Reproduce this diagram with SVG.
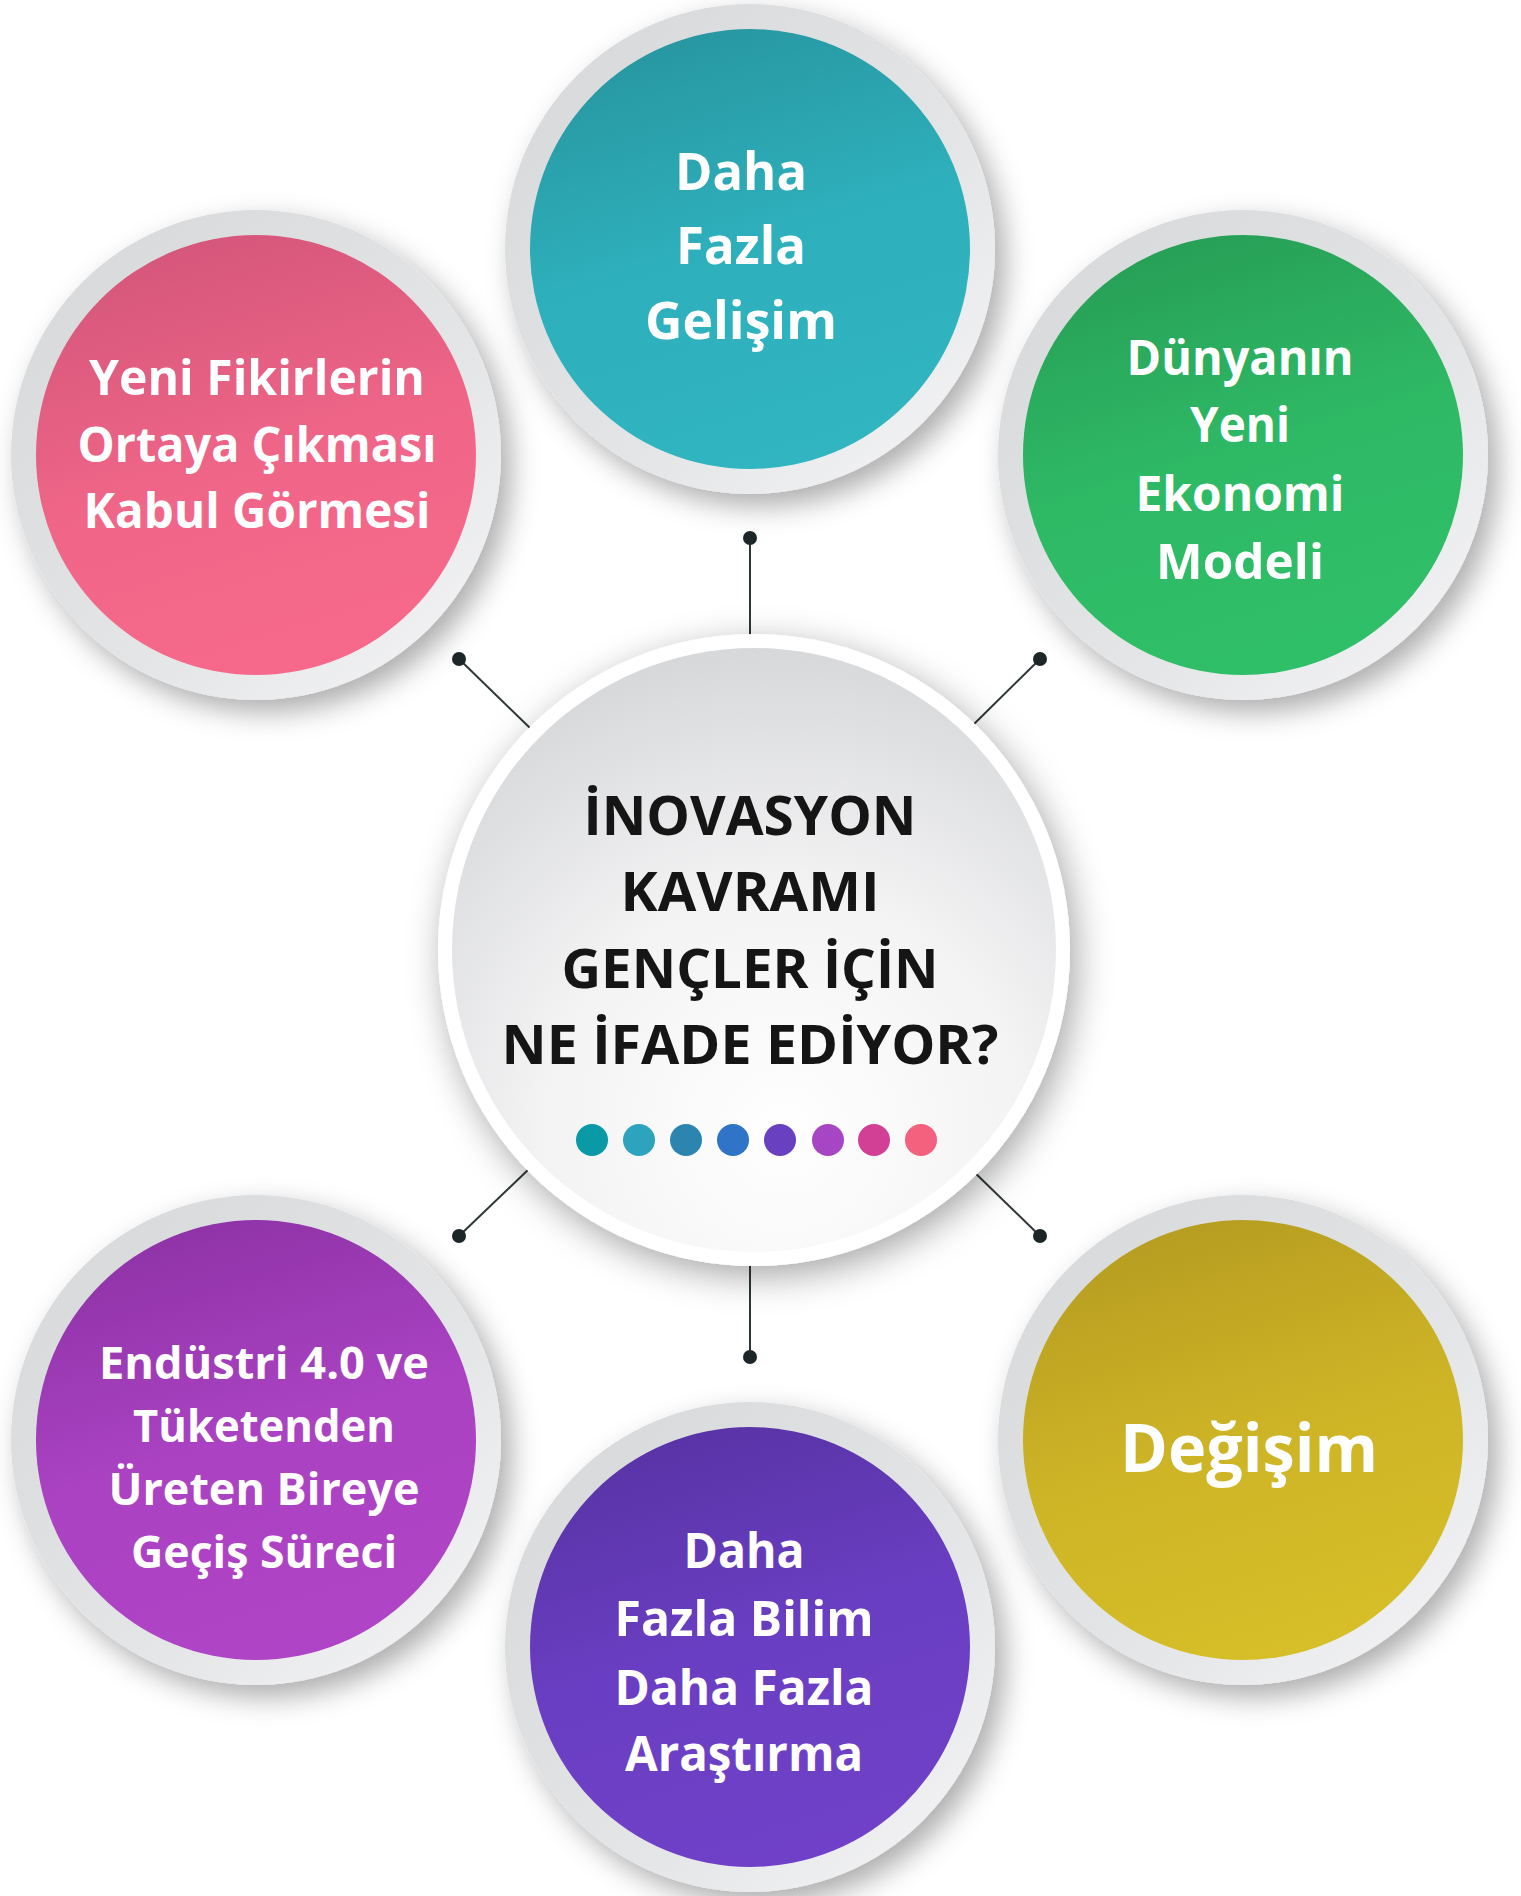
<svg xmlns="http://www.w3.org/2000/svg" width="1521" height="1896" viewBox="0 0 1521 1896">
<defs>
<style>
.t{font-family:"Open Sans","Noto Sans","DejaVu Sans",sans-serif;font-weight:700;fill:#ffffff;text-anchor:middle}
.c{font-family:"Open Sans","Noto Sans","DejaVu Sans",sans-serif;font-weight:700;fill:#151515;text-anchor:middle;font-size:54px}
.ring{fill:url(#ringG)}
.conn{stroke:#2f3638;stroke-width:2;fill:none}
.dot{fill:#1c2628}
</style>
<filter id="sh" x="-30%" y="-30%" width="170%" height="170%">
<feDropShadow dx="10" dy="12" stdDeviation="14" flood-color="#000" flood-opacity="0.32"/>
</filter>
<filter id="shc" x="-30%" y="-30%" width="170%" height="170%">
<feDropShadow dx="6" dy="10" stdDeviation="18" flood-color="#000" flood-opacity="0.35"/>
</filter>
<linearGradient id="ringG" x1="0" y1="0" x2="1" y2="1">
<stop offset="0" stop-color="#d6d7d9"/>
<stop offset="0.6" stop-color="#e4e5e7"/>
<stop offset="1" stop-color="#f6f6f7"/>
</linearGradient>
<linearGradient id="gTeal" x1="0.3" y1="0" x2="0.6" y2="1">
<stop offset="0" stop-color="#2796a0"/>
<stop offset="0.5" stop-color="#2eb0bc"/>
<stop offset="1" stop-color="#30b5c1"/>
</linearGradient>
<linearGradient id="gPink" x1="0.3" y1="0" x2="0.6" y2="1">
<stop offset="0" stop-color="#d4567a"/>
<stop offset="0.55" stop-color="#f06688"/>
<stop offset="1" stop-color="#f7698b"/>
</linearGradient>
<linearGradient id="gGreen" x1="0.3" y1="0" x2="0.6" y2="1">
<stop offset="0" stop-color="#279e56"/>
<stop offset="0.5" stop-color="#2eb965"/>
<stop offset="1" stop-color="#30bf69"/>
</linearGradient>
<linearGradient id="gPurple" x1="0.3" y1="0" x2="0.6" y2="1">
<stop offset="0" stop-color="#8e32a6"/>
<stop offset="0.5" stop-color="#aa42c2"/>
<stop offset="1" stop-color="#b044c6"/>
</linearGradient>
<linearGradient id="gViolet" x1="0.3" y1="0" x2="0.6" y2="1">
<stop offset="0" stop-color="#5833a5"/>
<stop offset="0.5" stop-color="#6a3ec2"/>
<stop offset="1" stop-color="#7041c8"/>
</linearGradient>
<linearGradient id="gYellow" x1="0.3" y1="0" x2="0.6" y2="1">
<stop offset="0" stop-color="#b69c20"/>
<stop offset="0.5" stop-color="#cdb426"/>
<stop offset="1" stop-color="#d6bf28"/>
</linearGradient>
<radialGradient id="gCenter" cx="0.55" cy="0.8" r="0.8">
<stop offset="0" stop-color="#ffffff"/>
<stop offset="0.5" stop-color="#f3f3f4"/>
<stop offset="1" stop-color="#d7d8da"/>
</radialGradient>
</defs>
<rect width="1521" height="1896" fill="#ffffff"/>

<g id="connectors">
<line class="conn" x1="750" y1="538" x2="750" y2="640"/>
<circle class="dot" cx="750" cy="538" r="7"/>
<line class="conn" x1="459" y1="659" x2="530" y2="728"/>
<circle class="dot" cx="459" cy="659" r="7"/>
<line class="conn" x1="1040" y1="659" x2="970" y2="728"/>
<circle class="dot" cx="1040" cy="659" r="7"/>
<line class="conn" x1="459" y1="1236" x2="530" y2="1168"/>
<circle class="dot" cx="459" cy="1236" r="7"/>
<line class="conn" x1="1040" y1="1236" x2="970" y2="1168"/>
<circle class="dot" cx="1040" cy="1236" r="7"/>
<line class="conn" x1="750" y1="1262" x2="750" y2="1357"/>
<circle class="dot" cx="750" cy="1357" r="7"/>
</g>

<g id="center">
<circle cx="754" cy="950" r="316" fill="#ffffff" filter="url(#shc)"/>
<circle cx="754" cy="950" r="302" fill="url(#gCenter)"/>
<text class="c" x="750" y="835" textLength="333" lengthAdjust="spacingAndGlyphs">İNOVASYON</text>
<text class="c" x="750" y="911" textLength="259" lengthAdjust="spacingAndGlyphs">KAVRAMI</text>
<text class="c" x="750" y="988" textLength="377" lengthAdjust="spacingAndGlyphs">GENÇLER İÇİN</text>
<text class="c" x="750" y="1064" textLength="497" lengthAdjust="spacingAndGlyphs">NE İFADE EDİYOR?</text>
<circle cx="592" cy="1140" r="16" fill="#0a9aa6"/>
<circle cx="639" cy="1140" r="16" fill="#2ea3bd"/>
<circle cx="686" cy="1140" r="16" fill="#2c85ae"/>
<circle cx="733" cy="1140" r="16" fill="#2f74c6"/>
<circle cx="780" cy="1140" r="16" fill="#6840c0"/>
<circle cx="828" cy="1140" r="16" fill="#a646c4"/>
<circle cx="874" cy="1140" r="16" fill="#d24095"/>
<circle cx="921" cy="1140" r="16" fill="#f4617f"/>
</g>

<g id="node-top">
<circle class="ring" cx="750" cy="249" r="245" filter="url(#sh)"/>
<circle cx="750" cy="249" r="220" fill="url(#gTeal)"/>
<text class="t" font-size="52" x="741" y="190" textLength="132" lengthAdjust="spacingAndGlyphs">Daha</text>
<text class="t" font-size="52" x="741" y="264" textLength="130" lengthAdjust="spacingAndGlyphs">Fazla</text>
<text class="t" font-size="52" x="741" y="339" textLength="192" lengthAdjust="spacingAndGlyphs">Gelişim</text>
</g>

<g id="node-topleft">
<circle class="ring" cx="256" cy="455" r="245" filter="url(#sh)"/>
<circle cx="256" cy="455" r="220" fill="url(#gPink)"/>
<text class="t" font-size="48" x="257" y="395" textLength="336" lengthAdjust="spacingAndGlyphs">Yeni Fikirlerin</text>
<text class="t" font-size="48" x="257" y="462" textLength="359" lengthAdjust="spacingAndGlyphs">Ortaya Çıkması</text>
<text class="t" font-size="48" x="257" y="528" textLength="347" lengthAdjust="spacingAndGlyphs">Kabul Görmesi</text>
</g>

<g id="node-topright">
<circle class="ring" cx="1243" cy="455" r="245" filter="url(#sh)"/>
<circle cx="1243" cy="455" r="220" fill="url(#gGreen)"/>
<text class="t" font-size="48" x="1240" y="375" textLength="227" lengthAdjust="spacingAndGlyphs">Dünyanın</text>
<text class="t" font-size="48" x="1240" y="442" textLength="100" lengthAdjust="spacingAndGlyphs">Yeni</text>
<text class="t" font-size="48" x="1240" y="511" textLength="209" lengthAdjust="spacingAndGlyphs">Ekonomi</text>
<text class="t" font-size="48" x="1240" y="579" textLength="168" lengthAdjust="spacingAndGlyphs">Modeli</text>
</g>

<g id="node-bottomleft">
<circle class="ring" cx="256" cy="1440" r="245" filter="url(#sh)"/>
<circle cx="256" cy="1440" r="220" fill="url(#gPurple)"/>
<text class="t" font-size="45" x="264" y="1379" textLength="330" lengthAdjust="spacingAndGlyphs">Endüstri 4.0 ve</text>
<text class="t" font-size="45" x="264" y="1442" textLength="262" lengthAdjust="spacingAndGlyphs">Tüketenden</text>
<text class="t" font-size="45" x="264" y="1505" textLength="311" lengthAdjust="spacingAndGlyphs">Üreten Bireye</text>
<text class="t" font-size="45" x="264" y="1568" textLength="266" lengthAdjust="spacingAndGlyphs">Geçiş Süreci</text>
</g>

<g id="node-bottomright">
<circle class="ring" cx="1243" cy="1440" r="245" filter="url(#sh)"/>
<circle cx="1243" cy="1440" r="220" fill="url(#gYellow)"/>
<text class="t" font-size="66" x="1249" y="1472" textLength="258" lengthAdjust="spacingAndGlyphs">Değişim</text>
</g>

<g id="node-bottom">
<circle class="ring" cx="750" cy="1647" r="245" filter="url(#sh)"/>
<circle cx="750" cy="1647" r="220" fill="url(#gViolet)"/>
<text class="t" font-size="48" x="744" y="1568" textLength="121" lengthAdjust="spacingAndGlyphs">Daha</text>
<text class="t" font-size="48" x="744" y="1636" textLength="259" lengthAdjust="spacingAndGlyphs">Fazla Bilim</text>
<text class="t" font-size="48" x="744" y="1705" textLength="259" lengthAdjust="spacingAndGlyphs">Daha Fazla</text>
<text class="t" font-size="48" x="744" y="1771" textLength="238" lengthAdjust="spacingAndGlyphs">Araştırma</text>
</g>
</svg>
